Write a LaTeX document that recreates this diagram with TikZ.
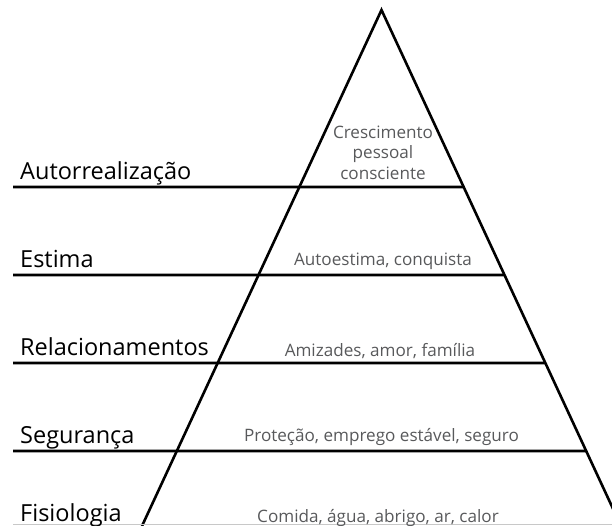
\documentclass[tikz,border=0pt]{standalone}
\usepackage{fontspec}
\setmainfont{Open Sans}
\usepackage{tikz}
\usetikzlibrary{calc}
\definecolor{pyrgray}{RGB}{88,89,91}
\definecolor{pyrlight}{RGB}{200,200,200}
\tikzstyle{level} = [line width=2.6pt, black]
\tikzstyle{lvlname} = [anchor=base west, inner sep=0pt, font=\fontsize{23.5}{27}\selectfont]
\tikzstyle{lvldesc} = [anchor=base, inner sep=0pt, text=pyrgray, font=\fontsize{17.1}{20}\selectfont]

\begin{document}
\begin{tikzpicture}[x=1pt, y=1pt]
\useasboundingbox (0,0) rectangle (612,526);
\clip (0,0) rectangle (612,526);

% Pyramid corners
\coordinate (apex) at (381.5,516);
\coordinate (bl) at (142,0);
\coordinate (br) at (621,0);

% Pyramid sides
\draw[level, line join=miter] (bl) -- (apex) -- (br);

% Level lines (left end to right side)
\foreach \y/\nm in {339/auto, 251/est, 163/rel, 75/seg} {
  \coordinate (\nm-l) at (13,\y);
  \coordinate (\nm-r) at ($(apex)!{(516-\y)/516}!(br)$);
  \draw[level] (\nm-l) -- (\nm-r);
}

% Base line (cut off)
\coordinate (base-l) at (13,1);
\coordinate (base-r) at (612,1);
\draw[pyrlight, line width=1pt] (base-l) -- (base-r);

% Level names
\node[lvlname] (autoname) at (20,346) {Autorrealização};
\node[lvlname] (estname) at (20,258) {Estima};
\node[lvlname] (relname) at (20,170) {Relacionamentos};
\node[lvlname] (segname) at (20,82) {Segurança};
\node[lvlname] (fisname) at (20,4) {Fisiologia};

% Level descriptions
\node[lvldesc] (autodesc1) at (383,387.5) {Crescimento};
\node[lvldesc] (autodesc2) at (383,367) {pessoal};
\node[lvldesc] (autodesc3) at (383,346.5) {consciente};
\node[lvldesc] (estdesc) at (383,260) {Autoestima, conquista};
\node[lvldesc] (reldesc) at (380,169.3) {Amizades, amor, família};
\node[lvldesc] (segdesc) at (381.5,84.3) {Proteção, emprego estável, seguro};
\node[lvldesc] (fisdesc) at (378,3) {Comida, água, abrigo, ar, calor};
\end{tikzpicture}
\end{document}
